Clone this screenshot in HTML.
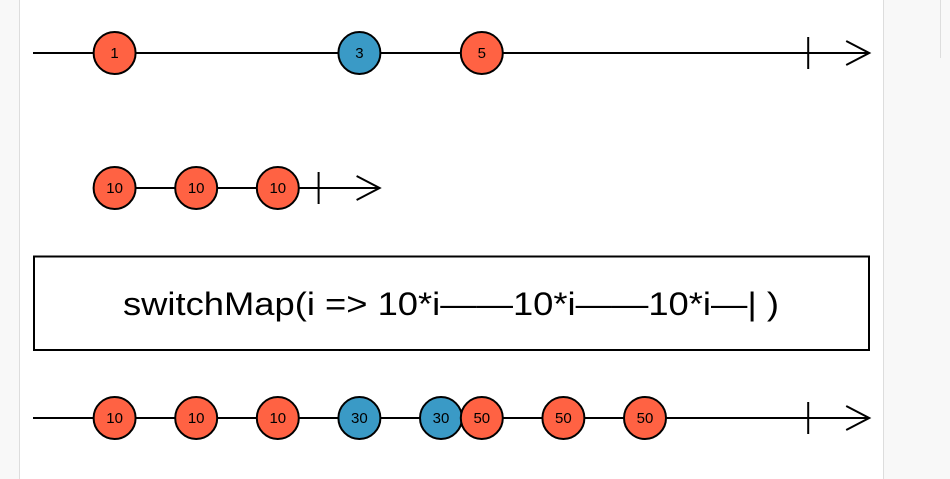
<!DOCTYPE html>
<html><head><meta charset="utf-8"><style>
html,body{margin:0;padding:0;width:950px;height:479px;overflow:hidden;background:#f8f8f8;font-family:"Liberation Sans",sans-serif}
</style></head><body>
<svg width="950" height="479" style="position:absolute;left:0;top:0">
<rect x="0" y="0" width="19" height="479" fill="#f8f8f8"/>
<line x1="19.5" y1="0" x2="19.5" y2="479" stroke="#ddd"/>
<rect x="20" y="0" width="863" height="479" fill="#fff"/>
<line x1="883.5" y1="0" x2="883.5" y2="479" stroke="#ddd"/>
<line x1="940.5" y1="0" x2="940.5" y2="58" stroke="#ddd"/>
<g id="g"></g>
<rect x="34" y="256.5" width="835" height="93.5" fill="none" stroke="#000" stroke-width="2"/>
<text x="123" y="315" textLength="656" lengthAdjust="spacingAndGlyphs" font-size="32" fill="#000">switchMap(i =&gt; 10*i——10*i——10*i—| )</text>
</svg>
<script>
const row1Values=["1","3","5"];
const row1Times=[1,4,5.5];
const row1Colors=["#ff6243","#3a9ac6","#ff6243"];
const row2Values=["10","10","10"];
const row2Times=[1,2,3];
const row3Values=["10","10","10","30","30","50","50","50"];
const row3Times=[1,2,3,4,5,5.5,6.5,7.5];
const row3Colors=["#ff6243","#ff6243","#ff6243","#3a9ac6","#3a9ac6","#ff6243","#ff6243","#ff6243"];
const x=t=>33+t*81.6;
const NS="http://www.w3.org/2000/svg";
const g=document.getElementById('g');
function mk(tag,attrs){const e=document.createElementNS(NS,tag);for(const k in attrs)e.setAttribute(k,attrs[k]);g.appendChild(e);return e;}
function timeline(y,x1,endT,name){
  const l=mk('line',{x1:x1,y1:y,x2:x(endT)+61,y2:y,stroke:'#000','stroke-width':2});
  
  
  const tk=mk('line',{x1:x(endT),y1:y-16,x2:x(endT),y2:y+16,stroke:'#000','stroke-width':2});
  
  
  const ax=x(endT)+61;
  const ar=mk('polyline',{points:(ax-23)+','+(y-12)+' '+ax+','+y+' '+(ax-23)+','+(y+12),fill:'none',stroke:'#000','stroke-width':2});
  
  
}
function marbles(y,vals,times,cols,name){
  vals.forEach((v,i)=>{
    const cx=x(times[i]);
    const c=mk('circle',{cx:cx,cy:y,r:21,fill:cols[i],stroke:'#000','stroke-width':2});
    
    
    const t=mk('text',{x:cx,y:y+5,'text-anchor':'middle','font-size':15,fill:'#000'});
    t.textContent=v;
    
    
  });
}
timeline(53,33,9.5,'source');
marbles(53,row1Values,row1Times,row1Colors,'source');
timeline(188,x(1),3.5,'inner');
marbles(188,row2Values,row2Times,row2Values.map(()=>"#ff6243"),'inner');
timeline(418,33,9.5,'output');
marbles(418,row3Values,row3Times,row3Colors,'output');
</script>
</body></html>
